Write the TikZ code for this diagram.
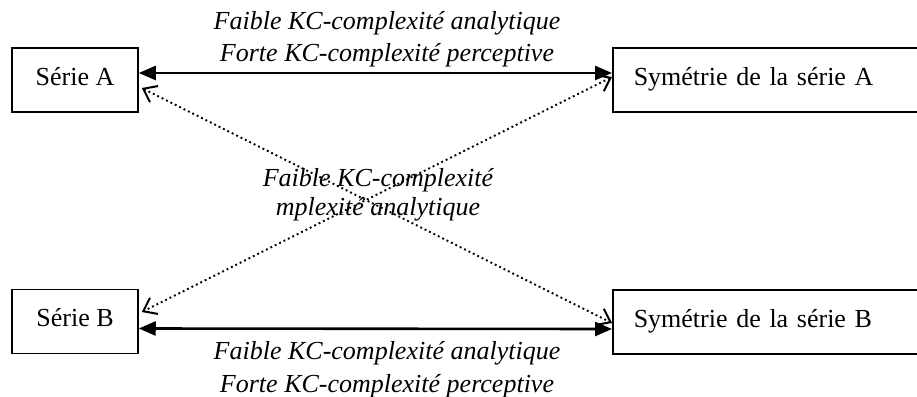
\documentclass[tikz,border=0pt]{standalone}
\usepackage{fontspec}
\setmainfont{Liberation Serif}
\usetikzlibrary{arrows.meta}
\begin{document}
\begin{tikzpicture}[x=1pt,y=-1pt,
  boxstyle/.style={draw,line width=1.5pt,font=\fontsize{26}{31}\selectfont,
    text height=18pt,text depth=8pt,inner sep=0pt},
  leftbox/.style={boxstyle,minimum width=126pt,minimum height=64pt},
  rightbox/.style={boxstyle,minimum height=64pt,text width=276pt,align=left,inner xsep=21pt},
  solidlink/.style={line width=2.6pt,{Triangle[length=17pt,width=14pt]}-{Triangle[length=17pt,width=14pt]}},
  barb/.tip={Straight Barb[length=12pt,width=18pt,line width=2pt]},
  dottedlink/.style={line width=1.9pt,dash pattern=on 1.9pt off 3pt,{barb}-{barb}},
  lbl/.style={font=\fontsize{26}{32.5}\selectfont\itshape,align=center,inner sep=0pt}
]
\useasboundingbox (0,0) rectangle (917,396);
\clip (0,0) rectangle (917,396);
\node[leftbox] (sa) at (75,80) {Série A};
\node[leftbox] (sb) at (75,321.5) {Série B};
\node[rightbox,anchor=west] (syma) at (612,80) {Symétrie de la série A};
\node[rightbox,anchor=west] (symb) at (612,322) {Symétrie de la série B};
\draw[solidlink] ([yshift=7pt]sa.east) -- ([yshift=7pt]syma.west);
\draw[solidlink] ([yshift=-7pt]sb.east) -- ([yshift=-7pt]symb.west);
\draw[dottedlink] ([xshift=3pt,yshift=-8pt]sa.east) -- ([yshift=-1pt]symb.west);
\draw[dottedlink] ([yshift=3pt]syma.west) -- ([xshift=3pt,yshift=9.5pt]sb.east);
\node[lbl,anchor=base] (top) at (387,62) {Faible KC-complexité analytique\\Forte KC-complexité perceptive};
\node[lbl,anchor=base,font=\fontsize{26}{28.3}\selectfont\itshape] (mid) at (378,215) {Faible KC-complexité\\mplexité analytique};
\node[lbl,anchor=base] (bot) at (387,392) {Faible KC-complexité analytique\\Forte KC-complexité perceptive};
\end{tikzpicture}
\end{document}
